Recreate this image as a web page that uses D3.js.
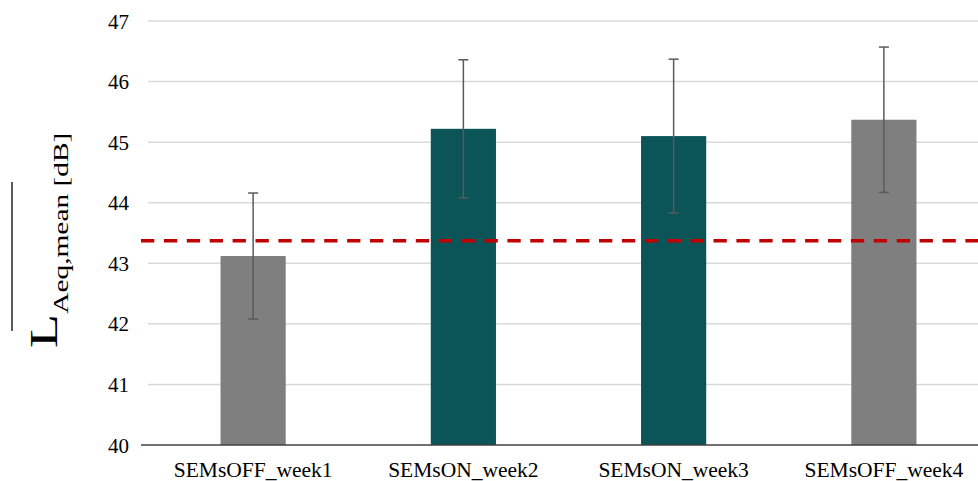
<!DOCTYPE html>
<html>
<head>
<meta charset="utf-8">
<script src="https://cdn.jsdelivr.net/npm/d3@7"></script>
<style>
  html, body { margin: 0; padding: 0; background: #fff; }
  svg { display: block; }
  text { font-family: "Liberation Serif", "Times New Roman", serif; fill: #000; }
</style>
</head>
<body>
<svg id="chart" width="978" height="481"></svg>
<script>
// Weekly mean sound level with standard deviation
const categories = ["SEMsOFF_week1", "SEMsON_week2", "SEMsON_week3", "SEMsOFF_week4"];
const meanValues = [43.12, 45.22, 45.10, 45.37];
const errorValues = [1.04, 1.14, 1.27, 1.20];
const semsState = ["off", "on", "on", "off"];
const referenceLevel = 43.37;
const yTicks = [40, 41, 42, 43, 44, 45, 46, 47];

const colors = { off: "#7f7f7f", on: "#0b5458" };

const svg = d3.select("#chart");

const y = d3.scaleLinear().domain([40, 47]).range([445, 21]);
const x = d3.scaleBand()
  .domain(categories)
  .range([148, 989])
  .paddingInner(0.69)
  .paddingOuter(0.345);

// Horizontal gridlines
svg.append("g")
  .selectAll("line")
  .data(yTicks.filter(t => t !== 40))
  .join("line")
  .attr("x1", 148).attr("x2", 978)
  .attr("y1", d => y(d)).attr("y2", d => y(d))
  .attr("stroke", "#d9d9d9")
  .attr("stroke-width", 1.5);

// Y axis tick labels
const yAxis = d3.axisLeft(y).tickValues(yTicks).tickSize(0).tickPadding(0).tickFormat(d3.format("d"));
const yAxisG = svg.append("g").attr("transform", "translate(129,0)").call(yAxis);
yAxisG.select(".domain").remove();
yAxisG.selectAll("text")
  .attr("font-size", 21)
  .attr("font-family", "Liberation Serif, serif")
  .attr("fill", "#000")
  .attr("dy", "0.34em");

// Bars
const rows = categories.map((c, i) => ({ c, v: meanValues[i], e: errorValues[i], s: semsState[i] }));

svg.append("g")
  .selectAll("rect")
  .data(rows)
  .join("rect")
  .attr("x", d => x(d.c))
  .attr("width", x.bandwidth())
  .attr("y", d => y(d.v))
  .attr("height", d => y(40) - y(d.v))
  .attr("fill", d => colors[d.s]);

// Error bars
const eb = svg.append("g").attr("stroke", "#5a5a5a").attr("stroke-width", 1.5);
const cx = d => x(d.c) + x.bandwidth() / 2;
eb.selectAll("line.stem").data(rows).join("line").attr("class", "stem")
  .attr("x1", cx).attr("x2", cx)
  .attr("y1", d => y(d.v + d.e)).attr("y2", d => y(d.v - d.e));
eb.selectAll("line.top").data(rows).join("line").attr("class", "top")
  .attr("x1", d => cx(d) - 5).attr("x2", d => cx(d) + 5)
  .attr("y1", d => y(d.v + d.e)).attr("y2", d => y(d.v + d.e));
eb.selectAll("line.bot").data(rows).join("line").attr("class", "bot")
  .attr("x1", d => cx(d) - 5).attr("x2", d => cx(d) + 5)
  .attr("y1", d => y(d.v - d.e)).attr("y2", d => y(d.v - d.e));

// X axis baseline
svg.append("line")
  .attr("x1", 141).attr("x2", 978)
  .attr("y1", y(40)).attr("y2", y(40))
  .attr("stroke", "#404040")
  .attr("stroke-width", 1.5);

// Category labels
svg.append("g")
  .selectAll("text")
  .data(categories)
  .join("text")
  .attr("x", d => x(d) + x.bandwidth() / 2)
  .attr("y", 477)
  .attr("text-anchor", "middle")
  .attr("font-size", 21.5)
  .text(d => d);

// Reference level (dashed)
svg.append("line")
  .attr("x1", 141).attr("x2", 978)
  .attr("y1", y(referenceLevel)).attr("y2", y(referenceLevel))
  .attr("stroke", "#c00000")
  .attr("stroke-width", 3.5)
  .attr("stroke-dasharray", "13.3,9.6");

// Y axis title: overlined L with subscript
const title = svg.append("g")
  .attr("transform", "translate(57,348) rotate(-90) scale(1.4,1)");
const t = title.append("text").attr("x", 0).attr("y", 0);
t.append("tspan").attr("font-size", 40).text("L");
t.append("tspan").attr("font-size", 21).attr("dy", 11).text("Aeq,mean [dB]");

svg.append("line")
  .attr("x1", 12).attr("x2", 12)
  .attr("y1", 182).attr("y2", 331)
  .attr("stroke", "#000")
  .attr("stroke-width", 1.3);
</script>
</body>
</html>
